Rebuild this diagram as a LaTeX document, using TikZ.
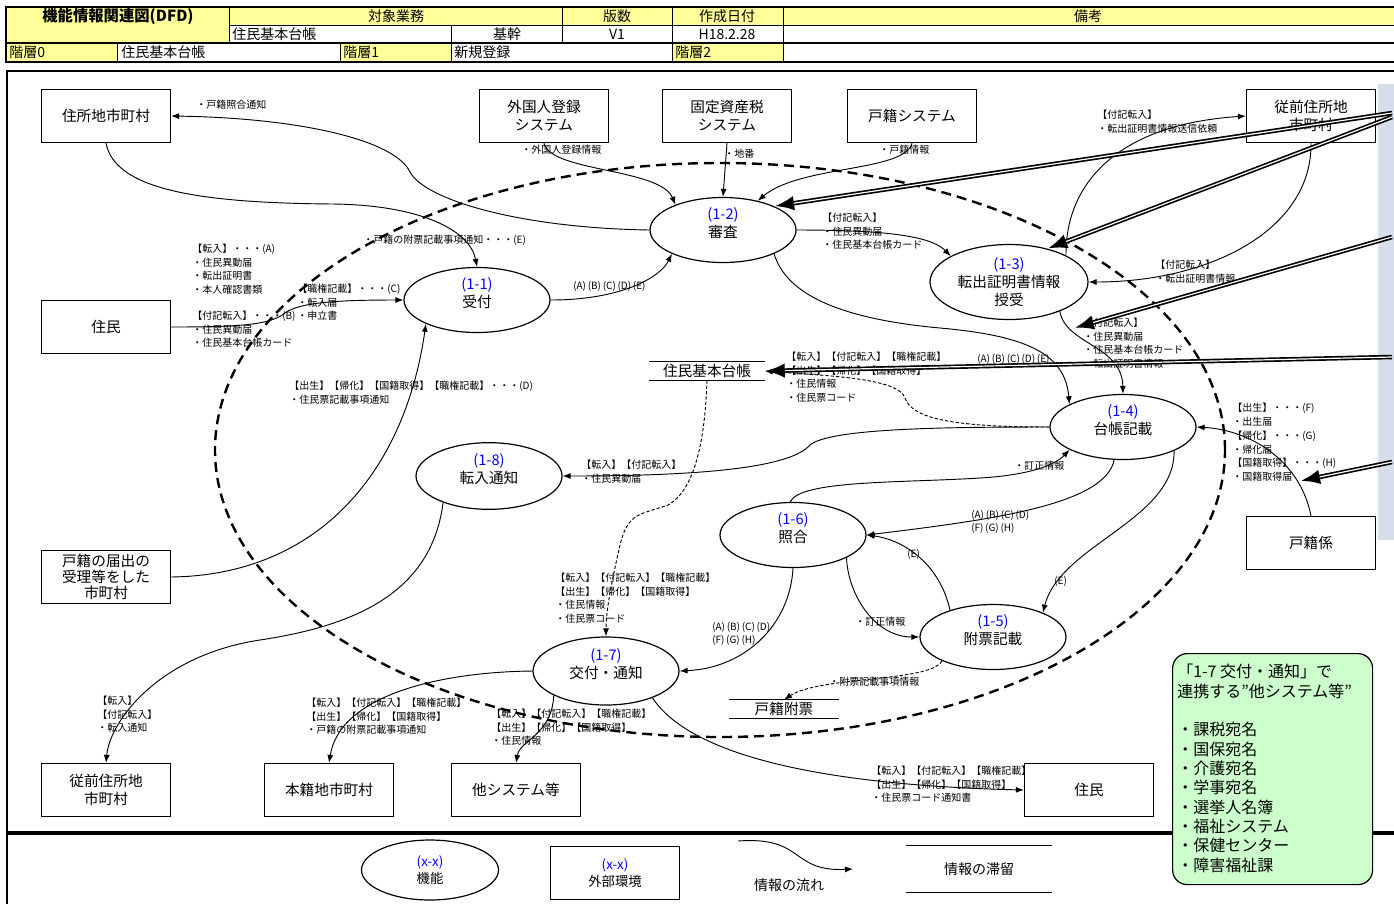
\documentclass[tikz,border=0pt]{standalone}
\usepackage{fontspec}
\setmainfont{Noto Sans CJK JP}
\usetikzlibrary{shapes.geometric,arrows.meta}
\definecolor{hdryellow}{RGB}{255,255,153}
\definecolor{numblue}{RGB}{0,0,255}
\definecolor{notegreen}{RGB}{204,255,204}
\definecolor{stripblue}{RGB}{214,222,236}
\newcommand{\proctext}[2]{{\color{numblue}#1}\\#2\\[-2pt]\mbox{}}
\begin{document}
\begin{tikzpicture}[x=0.75pt,y=-0.75pt,
  proc/.style={ellipse, draw, line width=0.9pt, minimum width=109.5pt, minimum height=48.75pt, inner sep=0pt, align=center, font=\fontsize{11}{13.5}\selectfont, fill=white},
  ext/.style={rectangle, draw, line width=0.9pt, minimum width=96.75pt, minimum height=39.75pt, inner sep=0pt, align=center, font=\fontsize{11}{13.5}\selectfont, fill=white},
  store/.style={minimum width=86.25pt, minimum height=13.5pt, inner sep=0pt, font=\fontsize{11}{13}\selectfont},
  lbl/.style={anchor=north west, inner sep=0pt, align=left, font=\fontsize{7.5}{10.1}\selectfont},
  htxt/.style={inner sep=0pt, font=\fontsize{10.5}{12}\selectfont},
  flow/.style={line width=0.7pt, -{Latex[length=6pt,width=4.5pt]}},
  dflow/.style={flow, dash pattern=on 2.5pt off 1.5pt},
  bigdash/.style={line width=1.8pt, dash pattern=on 7.5pt off 4.5pt},
  bigarr/.style={line width=3.4pt, -{Latex[length=15pt,width=11pt]}},
  bigcore/.style={white, line width=0.9pt, shorten >=15pt},
  thin/.style={line width=0.5pt}
]
\useasboundingbox (0,0) rectangle (1394,904);
\fill[white] (0,0) rectangle (1394,904);

% ---------- header ----------
\fill[hdryellow] (6,7) rectangle (229,43);
\fill[hdryellow] (229,7) rectangle (1394,25);
\fill[hdryellow] (6,43) rectangle (117,62);
\fill[hdryellow] (340,43) rectangle (451,62);
\fill[hdryellow] (672,43) rectangle (783,62);
\draw[thin] (229,25) -- (1394,25);
\draw[thin] (229,7) -- (229,43) (562,7) -- (562,43) (672,7) -- (672,43) (783,7) -- (783,43) (451,25) -- (451,43);
\draw[thin] (117,43) -- (117,62) (340,43) -- (340,62) (451,43) -- (451,62) (672,43) -- (672,62) (783,43) -- (783,62);
\draw[line width=1.5pt] (6,7) rectangle (1396,62);
\draw[line width=1.5pt] (6,43) -- (1396,43);
\node[htxt, font=\fontsize{11.5}{12}\selectfont\bfseries] (h1) at (118,16) {機能情報関連図(DFD)};
\node[htxt] (h2) at (396,16) {対象業務};
\node[htxt] (h3) at (617,16) {版数};
\node[htxt] (h4) at (727,16) {作成日付};
\node[htxt] (h5) at (1088,16) {備考};
\node[htxt, anchor=west] (h6) at (232,34) {住民基本台帳};
\node[htxt] (h7) at (507,34) {基幹};
\node[htxt] (h8) at (617,34) {V1};
\node[htxt] (h9) at (727,34) {H18.2.28};
\node[htxt, anchor=west] (h10) at (9,52) {階層0};
\node[htxt, anchor=west] (h11) at (121,52) {住民基本台帳};
\node[htxt, anchor=west] (h12) at (343,52) {階層1};
\node[htxt, anchor=west] (h13) at (454,52) {新規登録};
\node[htxt, anchor=west] (h14) at (675,52) {階層2};

% ---------- frame ----------
\draw[line width=2.2pt] (7,904) -- (7,71) -- (1396,71);
\draw[line width=2.4pt] (7,833) -- (1396,833);
\fill[stripblue] (1378,84) rectangle (1394,540);

% ---------- big dashed boundary ----------
\draw[bigdash] (720,450) ellipse [x radius=378.75pt, y radius=215.25pt];

% ---------- external entities ----------
\node[ext] (b1) at (106,116) {住所地市町村};
\node[ext] (b2) at (544,116) {外国人登録\\システム};
\node[ext] (b3) at (727,116) {固定資産税\\システム};
\node[ext] (b4) at (912,116) {戸籍システム};
\node[ext] (b5) at (1311,116) {従前住所地\\市町村};
\node[ext] (b6) at (106,327) {住民};
\node[ext, font=\fontsize{11}{12}\selectfont] (b7) at (106,577) {戸籍の届出の\\受理等をした\\市町村};
\node[ext] (b8) at (106,790) {従前住所地\\市町村};
\node[ext] (b9) at (329,790) {本籍地市町村};
\node[ext] (b10) at (516,790) {他システム等};
\node[ext] (b11) at (1089,790) {住民};
\node[ext] (b12) at (1311,543) {戸籍係};

% ---------- processes ----------
\node[proc] (p11) at (477,300) {\proctext{(1-1)}{受付}};
\node[proc] (p12) at (723,230) {\proctext{(1-2)}{審査}};
\node[proc, minimum width=118.5pt, minimum height=56.25pt] (p13) at (1009,282) {{\color{numblue}(1-3)}\\転出証明書情報\\授受};
\node[proc] (p14) at (1123,427) {\proctext{(1-4)}{台帳記載}};
\node[proc] (p15) at (993,637) {\proctext{(1-5)}{附票記載}};
\node[proc] (p16) at (793,535) {\proctext{(1-6)}{照合}};
\node[proc, minimum height=51pt] (p17) at (606,671) {\proctext{(1-7)}{交付・通知}};
\node[proc, minimum height=50pt] (p18) at (489,476) {\proctext{(1-8)}{転入通知}};

% ---------- data stores ----------
\node[store] (s1) at (707,371) {住民基本台帳};
\draw[line width=0.8pt] (s1.north west) -- (s1.north east) (s1.south west) -- (s1.south east);
\node[store, minimum width=82.5pt] (s2) at (784,709) {戸籍附票};
\draw[line width=0.8pt] (s2.north west) -- (s2.north east) (s2.south west) -- (s2.south east);

% ---------- connectors ----------
\draw[flow] (p12.west) .. controls (520,228) and (425,200) .. (410,172) .. controls (395,140) and (300,118) .. (b1.east);
\draw[flow] (b1.south) .. controls (115,190) and (200,203) .. (333,204) .. controls (420,205) and (470,230) .. (p11.north);
\draw[flow] (b2.south) .. controls (550,172) and (660,168) .. (p12.152);
\draw[flow] (b3.south) -- (p12.north);
\draw[flow] (b4.south) .. controls (905,172) and (800,165) .. (p12.40);
\draw[flow] (p11.east) .. controls (620,300) and (660,278) .. (p12.205);
\draw[flow] (b6.east) .. controls (240,327) and (270,325) .. (285,313) .. controls (300,302) and (340,300) .. (p11.west);
\draw[flow] (b7.east) .. controls (320,575) and (405,470) .. (p11.205);
\draw[flow] (p12.east) .. controls (880,230) and (930,235) .. (p13.156);
\draw[flow] (p12.335) .. controls (785,290) and (830,318) .. (940,328) .. controls (1030,336) and (1065,355) .. (p14.157);
\draw[flow] (p13.330) .. controls (1066,345) and (1122,345) .. (p14.north);
\draw[flow] (p13.25) .. controls (1065,190) and (1110,125) .. (b5.west);
\draw[flow] (b5.south) .. controls (1312,230) and (1210,282) .. (p13.east);
\draw[dflow] (p14.west) .. controls (960,427) and (912,420) .. (905,398) .. controls (898,378) and (830,376) .. (s1.east);
\draw[dflow] (s1.south) .. controls (705,440) and (695,490) .. (668,505) .. controls (640,515) and (628,512) .. (620,545) .. controls (612,580) and (606,610) .. (p17.north);
\draw[flow] (p14.west) .. controls (950,427) and (830,428) .. (810,445) .. controls (790,468) and (700,476) .. (p18.east);
\draw[flow] (p16.95) .. controls (800,480) and (900,483) .. (980,478) .. controls (1030,475) and (1055,465) .. (p14.203);
\draw[flow] (p14.255) .. controls (1105,505) and (990,520) .. (p16.east);
\draw[flow] (p14.335) .. controls (1175,520) and (1060,545) .. (p15.26);
\draw[flow] (p15.148) .. controls (940,565) and (905,540) .. (p16.east);
\draw[flow] (p16.337) .. controls (848,595) and (875,637) .. (p15.west);
\draw[flow] (p16.south) .. controls (790,625) and (745,668) .. (p17.east);
\draw[dflow] (p15.205) .. controls (932,682) and (820,676) .. (s2.north);
\draw[flow] (p17.330) .. controls (690,755) and (820,785) .. (b11.west);
\draw[flow] (p17.205) .. controls (552,735) and (520,740) .. (b10.north);
\draw[flow] (p17.west) .. controls (440,672) and (340,695) .. (b9.north);
\draw[flow] (p18.210) .. controls (432,590) and (360,625) .. (260,640) .. controls (160,655) and (110,720) .. (b8.north);
\draw[flow] (b12.north) .. controls (1300,460) and (1250,430) .. (p14.east);

% ---------- labels ----------
\node[lbl] (l1) at (196,100) {・戸籍照合通知};
\node[lbl] (l2) at (363,235) {・戸籍の附票記載事項通知・・・(E)};
\node[lbl] (l3) at (521,145) {・外国人登録情報};
\node[lbl] (l4) at (724,149) {・地番};
\node[lbl] (l5) at (879,145) {・戸籍情報};
\node[lbl] (l6) at (573,281) {(A)\,(B)\,(C)\,(D)\,(E)};
\node[lbl] (l7) at (192,244) {【転入】・・・(A)\\・住民異動届\\・転出証明書\\・本人確認書類};
\node[lbl] (l8) at (297,284) {【職権記載】・・・(C)\\・転入届\\・申立書};
\node[lbl] (l9) at (192,311) {【付記転入】・・・(B)\\・住民異動届\\・住民基本台帳カード};
\node[lbl] (l10) at (289,381) {【出生】【帰化】【国籍取得】【職権記載】・・・(D)\\・住民票記載事項通知};
\node[lbl] (l11) at (822,213) {【付記転入】\\・住民異動届\\・住民基本台帳カード};
\node[lbl] (l12) at (977,354) {(A)\,(B)\,(C)\,(D)\,(E)};
\node[lbl] (l13) at (1083,318) {【付記転入】\\・住民異動届\\・住民基本台帳カード\\・転出証明書情報};
\node[lbl] (l14) at (1097,110) {【付記転入】\\・転出証明書情報送信依頼};
\node[lbl] (l15) at (1155,260) {【付記転入】\\・転出証明書情報};
\node[lbl] (l16) at (786,352) {【転入】【付記転入】【職権記載】\\【出生】【帰化】【国籍取得】\\・住民情報\\・住民票コード};
\node[lbl] (l17) at (555,573) {【転入】【付記転入】【職権記載】\\【出生】【帰化】【国籍取得】\\・住民情報\\・住民票コード};
\node[lbl] (l18) at (581,460) {【転入】【付記転入】\\・住民異動届};
\node[lbl] (l19) at (1014,461) {・訂正情報};
\node[lbl] (l20) at (971,510) {(A)\,(B)\,(C)\,(D)\\(F)\,(G)\,(H)};
\node[lbl] (l21) at (1054,576) {(E)};
\node[lbl] (l22) at (907,549) {(E)};
\node[lbl] (l23) at (855,617) {・訂正情報};
\node[lbl] (l24) at (712,622) {(A)\,(B)\,(C)\,(D)\\(F)\,(G)\,(H)};
\node[lbl] (l25) at (829,677) {・附票記載事項情報};
\node[lbl] (l26) at (871,766) {【転入】【付記転入】【職権記載】\\【出生】【帰化】【国籍取得】\\・住民票コード通知書};
\node[lbl] (l27) at (491,709) {【転入】【付記転入】【職権記載】\\【出生】【帰化】【国籍取得】\\・住民情報};
\node[lbl] (l28) at (306,698) {【転入】【付記転入】【職権記載】\\【出生】【帰化】【国籍取得】\\・戸籍の附票記載事項通知};
\node[lbl] (l29) at (97,696) {【転入】\\【付記転入】\\・転入通知};
\node[lbl, font=\fontsize{7.5}{10.35}\selectfont] (l30) at (1232,403) {【出生】・・・(F)\\・出生届\\【帰化】・・・(G)\\・帰化届\\【国籍取得】・・・(H)\\・国籍取得届};

% ---------- overlay callout arrows ----------
\coordinate (ra) at (1392,113);
\coordinate (rb) at (1392,117);
\coordinate (rc) at (1392,237);
\coordinate (rd) at (1392,357);
\coordinate (re) at (1392,462);
\coordinate (tc) at (1074,328);
\coordinate (te) at (1300,481);
\draw[bigarr] (ra) -- (p12.25);
\draw[bigcore] (ra) -- (p12.25);
\draw[bigarr] (rb) -- (p13.41);
\draw[bigcore] (rb) -- (p13.41);
\draw[bigarr] (rc) -- (tc);
\draw[bigcore] (rc) -- (tc);
\draw[bigarr] (rd) -- (s1.east);
\draw[bigcore] (rd) -- (s1.east);
\draw[bigarr] (re) -- (te);
\draw[bigcore] (re) -- (te);

% ---------- note box ----------
\node[draw, line width=0.9pt, rounded corners=11pt, fill=notegreen, minimum width=150pt, minimum height=173.25pt, inner sep=0pt, anchor=north west] (note) at (1172,653) {};
\node[anchor=north west, inner sep=0pt, align=left, font=\fontsize{12}{14.5}\selectfont] (notetxt) at (1177,664) {「1-7 交付・通知」で\\連携する”他システム等”\\[14.5pt]・課税宛名\\・国保宛名\\・介護宛名\\・学事宛名\\・選挙人名簿\\・福祉システム\\・保健センター\\・障害福祉課};

% ---------- legend ----------
\node[proc, minimum width=102.75pt, minimum height=45pt, font=\fontsize{10}{12.5}\selectfont] (lgf) at (430,870) {{\color{numblue}(x-x)}\\機能};
\node[ext, font=\fontsize{10}{13}\selectfont] (lge) at (615,873) {{\color{numblue}(x-x)}\\外部環境};
\coordinate (lga) at (738,841);
\coordinate (lgb) at (853,869);
\draw[flow] (lga) .. controls (805,836) and (790,872) .. (lgb);
\node[inner sep=0pt, font=\fontsize{10.5}{12}\selectfont] (lgt) at (789,885) {情報の流れ};
\node[store, minimum width=109.5pt, minimum height=34.5pt, font=\fontsize{10.5}{12}\selectfont] (lgs) at (979,869) {情報の滞留};
\draw[line width=0.8pt] (lgs.north west) -- (lgs.north east) (lgs.south west) -- (lgs.south east);
\end{tikzpicture}
\end{document}
